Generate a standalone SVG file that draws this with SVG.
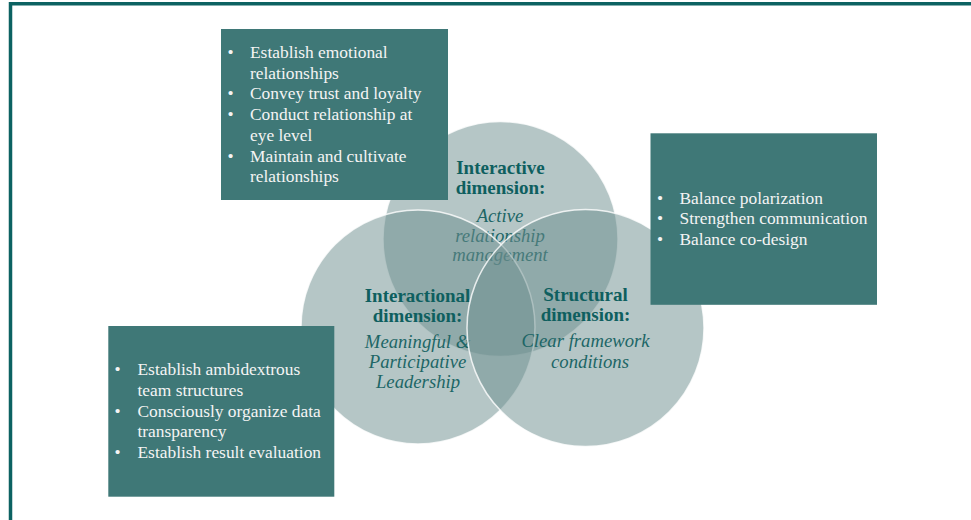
<svg xmlns="http://www.w3.org/2000/svg" width="971" height="520" viewBox="0 0 971 520">
  <style>
    .frame { fill: none; stroke: #0c6262; stroke-width: 3.5; }
    .circle { fill: #6b8d8d; fill-opacity: 0.5; stroke: #ffffff; stroke-width: 1.5; stroke-opacity: 0.8; }
    .box { fill: #3f7877; }
    .head { font-family: "Liberation Serif", "Times New Roman", serif; font-weight: bold; font-size: 19px; fill: #0e5f5f; text-anchor: middle; }
    .sub { font-family: "Liberation Serif", "Times New Roman", serif; font-style: italic; font-size: 18.7px; fill: #1d6666; text-anchor: middle; }
    .item { font-family: "Liberation Serif", "Times New Roman", serif; font-size: 17.4px; fill: #f4f4f4; }
  </style>

  <!-- page frame: top and left rules -->
  <path class="frame" d="M10.5 520 V3.8 H971"/>

  <!-- interactive dimension (top circle) -->
  <g id="interactive">
    <circle class="circle" cx="500.5" cy="239" r="117.5"/>
    <text class="head" x="500.5" y="174.3">Interactive</text>
    <text class="head" x="500.5" y="194.3">dimension:</text>
    <text class="sub" x="500" y="221.7">Active</text>
    <text class="sub" x="500" y="241.5">relationship</text>
    <text class="sub" x="500" y="261.3">management</text>
  </g>

  <!-- interactional dimension (left circle) -->
  <g id="interactional">
    <circle class="circle" cx="418" cy="327" r="117"/>
    <text class="head" x="417.5" y="302.3">Interactional</text>
    <text class="head" x="417.5" y="322.3">dimension:</text>
    <text class="sub" x="417.5" y="348.3">Meaningful &amp;</text>
    <text class="sub" x="417.5" y="368.3">Participative</text>
    <text class="sub" x="418" y="388.3">Leadership</text>
  </g>

  <!-- structural dimension (right circle) -->
  <g id="structural">
    <circle class="circle" cx="585.5" cy="328" r="118.5"/>
    <text class="head" x="585.5" y="301">Structural</text>
    <text class="head" x="585.5" y="321">dimension:</text>
    <text class="sub" x="585.5" y="347.3">Clear framework</text>
    <text class="sub" x="590" y="367.7">conditions</text>
  </g>

  <!-- measures: interactive -->
  <g id="box-interactive">
    <rect class="box" x="221" y="29" width="227" height="171"/>
    <g class="item">
      <text x="227.5" y="58">•</text><text x="250" y="58">Establish emotional</text>
      <text x="250" y="78.7">relationships</text>
      <text x="227.5" y="99.4">•</text><text x="250" y="99.4">Convey trust and loyalty</text>
      <text x="227.5" y="120.1">•</text><text x="250" y="120.1">Conduct relationship at</text>
      <text x="250" y="140.8">eye level</text>
      <text x="227.5" y="161.5">•</text><text x="250" y="161.5">Maintain and cultivate</text>
      <text x="250" y="182.2">relationships</text>
    </g>
  </g>

  <!-- measures: structural -->
  <g id="box-structural">
    <rect class="box" x="650.5" y="133.3" width="226.5" height="171.5"/>
    <g class="item">
      <text x="657" y="204">•</text><text x="679.5" y="204">Balance polarization</text>
      <text x="657" y="224.3">•</text><text x="679.5" y="224.3">Strengthen communication</text>
      <text x="657" y="244.5">•</text><text x="679.5" y="244.5">Balance co-design</text>
    </g>
  </g>

  <!-- measures: interactional -->
  <g id="box-interactional">
    <rect class="box" x="108.3" y="326" width="226" height="170.7"/>
    <g class="item">
      <text x="114.5" y="375">•</text><text x="137.5" y="375">Establish ambidextrous</text>
      <text x="137.5" y="395.8">team structures</text>
      <text x="114.5" y="416.6">•</text><text x="137.5" y="416.6">Consciously organize data</text>
      <text x="137.5" y="437.3">transparency</text>
      <text x="114.5" y="457.8">•</text><text x="137.5" y="457.8">Establish result evaluation</text>
    </g>
  </g>
</svg>
